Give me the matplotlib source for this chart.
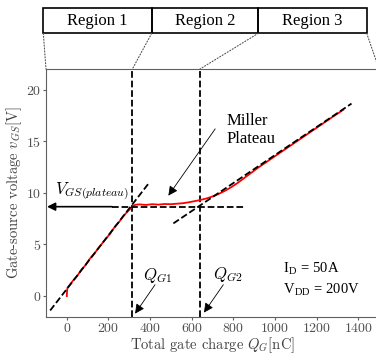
import matplotlib
matplotlib.use("Agg")
import matplotlib.pyplot as plt
from matplotlib.patches import Rectangle, ConnectionPatch

plt.rcParams['font.family'] = 'serif'
plt.rcParams['font.serif'] = ['cmr10']
plt.rcParams['mathtext.fontset'] = 'cm'
plt.rcParams['axes.formatter.use_mathtext'] = True
plt.rcParams['axes.unicode_minus'] = False

# measured gate charge curve (nC, V)
qg = [0, 1, 3, 15, 30, 50, 70, 90, 110, 130, 150, 170, 190, 210, 230, 250, 270,
      290, 305, 315, 330, 350, 380, 410, 440, 470, 500, 530, 560, 590, 620, 640,
      670, 700, 730, 760, 790, 820, 850, 880, 920, 960, 1000, 1040, 1080, 1120,
      1160, 1200, 1240, 1280, 1310, 1328]
vgs = [0.0, 0.45, 0.8, 1.1, 1.5, 1.95, 2.55, 3.0, 3.6, 4.05, 4.6, 5.1, 5.6, 6.1,
       6.7, 7.15, 7.7, 8.15, 8.45, 8.7, 8.85, 8.88, 8.83, 8.9, 8.86, 8.92, 8.9,
       8.95, 9.0, 9.1, 9.22, 9.3, 9.45, 9.65, 9.9, 10.2, 10.55, 10.95, 11.4,
       11.85, 12.45, 13.0, 13.55, 14.1, 14.65, 15.2, 15.75, 16.3, 16.85, 17.4,
       17.8, 18.05]

# fitted lines (end points)
fit1_q = [-80, 391]
fit1_v = [-1.4, 10.86]
fit3_q = [512, 1368]
fit3_v = [7.04, 18.65]

qg1 = 315
qg2 = 640
v_plateau = 8.66
plateau_q = [218, 850]

regions = ['Region 1', 'Region 2', 'Region 3']

fig = plt.figure(figsize=(3.76, 3.53), dpi=100)
ax = fig.add_axes([46 / 376, 36.3 / 353, 333 / 376, 247.7 / 353])

ax.plot(qg, vgs, color='red', lw=1.3, zorder=3)
ax.plot(fit1_q, fit1_v, color='black', ls='--', lw=1.3, zorder=4)
ax.plot(fit3_q, fit3_v, color='black', ls='--', lw=1.3, zorder=4)
ax.plot(plateau_q, [v_plateau, v_plateau], color='black', ls='--', lw=1.3, zorder=4)
ax.axvline(qg1, color='black', ls='--', lw=1.3)
ax.axvline(qg2, color='black', ls='--', lw=1.3)

ax.set_xlim(-100, 1500)
ax.set_ylim(-2, 22)
ax.set_xticks(range(0, 1401, 200))
ax.set_yticks(range(0, 21, 5))

gray = '#606060'
for s in ['left', 'bottom', 'top']:
    ax.spines[s].set_color(gray)
ax.spines['right'].set_visible(False)
ax.tick_params(colors=gray, labelcolor='#505050', length=2, width=0.8, pad=1.5,
               labelsize=10)

ax.set_xlabel('Total gate charge $Q_G$[nC]', fontsize=10.5, color='#404040', va='center')
ax.xaxis.set_label_coords(0.5, -0.113)
ax.set_ylabel('Gate-source voltage $v_{GS}$[V]', fontsize=10.5, color='#404040', labelpad=1)

# annotations
ax.annotate('', xy=(-95, v_plateau), xytext=(plateau_q[0], v_plateau),
            arrowprops=dict(arrowstyle='-|>', color='black', lw=1.2, mutation_scale=12,
                            shrinkA=0, shrinkB=0))
ax.text(-56, 10.2, '$V_{GS(plateau)}$', fontsize=12, va='center', ha='left')

ax.annotate('', xy=(488, 9.73), xytext=(713, 16.2),
            arrowprops=dict(arrowstyle='-|>', color='black', lw=0.6, mutation_scale=14,
                            shrinkA=0, shrinkB=0))
ax.text(768, 16.1, 'Miller\nPlateau', fontsize=12, family='Liberation Serif',
        va='center', ha='left', linespacing=1.15)

ax.annotate('', xy=(328, -1.7), xytext=(424, 1.1),
            arrowprops=dict(arrowstyle='-|>', color='black', lw=0.6, mutation_scale=14,
                            shrinkA=0, shrinkB=0), annotation_clip=False)
ax.text(366, 2.0, '$Q_{G1}$', fontsize=12, va='center', ha='left')
ax.annotate('', xy=(659, -1.6), xytext=(752, 1.1),
            arrowprops=dict(arrowstyle='-|>', color='black', lw=0.6, mutation_scale=14,
                            shrinkA=0, shrinkB=0), annotation_clip=False)
ax.text(701, 2.1, '$Q_{G2}$', fontsize=12, va='center', ha='left')

ax.text(1040, 1.6, 'I$_{\\mathregular{D}}$ = 50A\nV$_{\\mathregular{DD}}$ = 200V',
        fontsize=10.5, family='Liberation Serif', va='center', ha='left', linespacing=1.35)

# region boxes above the axes
edges = [43.3, 151.7, 258.3, 366.7]
box_bottom = (353 - 33.3) / 353
box_top = (353 - 8.3) / 353
for i, name in enumerate(regions):
    x0 = edges[i] / 376
    x1 = edges[i + 1] / 376
    fig.add_artist(Rectangle((x0, box_bottom), x1 - x0, box_top - box_bottom,
                             transform=fig.transFigure, fill=False, ec='black', lw=1.2))
    fig.text((x0 + x1) / 2, (box_bottom + box_top) / 2, name, ha='center', va='center',
             fontsize=12, family='Liberation Serif')

targets = [-100, qg1, qg2, 1500]
for e, t in zip(edges, targets):
    con = ConnectionPatch(xyA=(e / 376, box_bottom), coordsA='figure fraction',
                          xyB=(t, 22), coordsB='data', axesB=ax,
                          color='#555555', lw=0.8, ls=':')
    fig.add_artist(con)

fig.savefig('out.png', dpi=100)
